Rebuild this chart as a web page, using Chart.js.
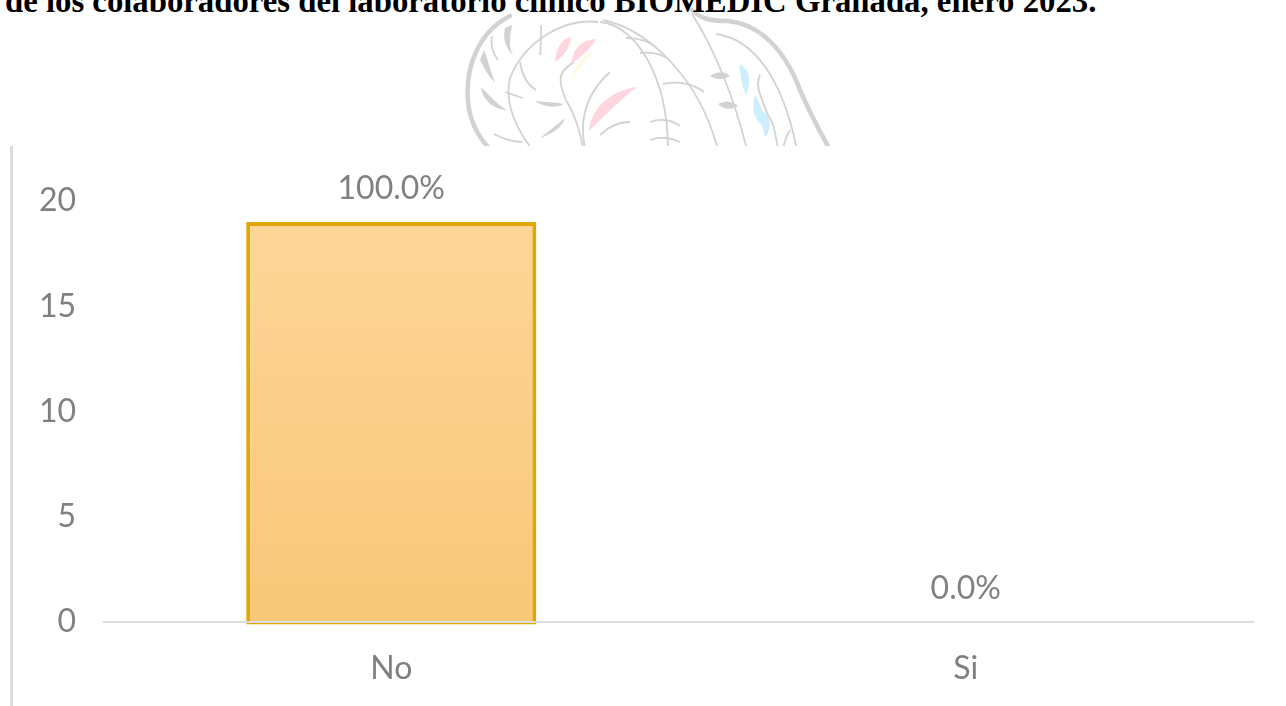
<!DOCTYPE html>
<html lang="es">
<head>
<meta charset="utf-8">
<title>BIOMEDIC</title>
<script src="https://cdn.jsdelivr.net/npm/chart.js@4"></script>
<style>
html,body{margin:0;padding:0;width:1286px;height:706px;overflow:hidden;background:#fff}
#title{position:absolute;left:5px;top:-14px;margin:0;font:bold 32.75px/30px "Liberation Serif",serif;color:#000;white-space:nowrap}
#mark{position:absolute;left:0;top:0;width:1286px;height:146px;filter:blur(.4px)}
#wrap{position:absolute;left:0;top:146px;width:1286px;height:560px;background:#fff}
#c{filter:blur(.45px)}
#edge{position:absolute;left:10px;top:146px;width:3px;height:560px;background:#dcdcdc}
</style>
</head>
<body>
<svg id="mark" viewBox="0 0 1286 146" aria-hidden="true" fill="none" stroke="#d2d2d2">
<g stroke-width="4.5" stroke-linecap="round">
<path d="M510 16C478 32 465 68 468 102C470 122 478 136 488 147"/>
<path d="M692 10C700 18 708 21 728 21C760 24 785 50 800 90C812 118 822 135 830 150"/>
</g>
<g stroke-width="1.8">
<path d="M598 22C565 18 525 40 510 78C505 100 514 125 531 148"/>
<path d="M600 22C635 25 668 75 668 150"/>
<path d="M603 20C650 30 700 80 718 150"/>
<path d="M692 14C715 50 735 100 747 150"/>
<path d="M716 34C760 40 785 90 797 150"/>
<path d="M566 100C555 75 562 70 574 62M566 100C575 115 580 130 583 148"/>
<path d="M585 148C578 115 590 90 610 72M492 36C490 48 494 55 498 60M541 25C541 40 541 48 540 55M520 62C522 75 528 85 536 90M505 92C510 94 517 96 523 98M626 38C640 38 650 42 653 46M640 53C650 52 660 54 667 58M663 84C680 80 695 85 704 92M650 122C660 118 672 120 680 126M650 140C660 136 672 138 680 142M760 75C755 85 760 95 768 115C775 125 775 135 778 148M790 130C785 138 785 142 783 148M600 135C610 125 620 122 630 122M494 134C505 140 515 142 522 142"/>
</g>
<g fill="#d2d2d2" stroke="none">
<path d="M505 28C502 42 508 50 513 55C508 45 510 38 512 25Z"/>
<path d="M480 60C486 72 490 78 495 82C490 70 488 60 484 50Z"/>
<path d="M481 87C482 100 495 110 507 110C497 104 490 96 481 87Z"/>
<path d="M535 101C545 108 556 108 564 104C555 102 545 102 535 101Z"/>
<path d="M540 138C552 134 562 128 565 118C555 126 548 132 540 138Z"/>
<path d="M710 76C718 70 726 72 730 76C724 80 716 80 710 76Z"/>
<path d="M718 104C726 100 734 102 738 106C732 110 724 110 718 104Z"/>
</g>
<g stroke="none">
<path d="M555 62C556 48 562 38 571 37C570 48 564 56 555 62Z" fill="#ffd6e0"/>
<path d="M572 63C572 50 580 40 596 39C590 50 582 56 572 63Z" fill="#ffd6e0"/>
<path d="M589 131C590 110 610 90 637 87C620 100 605 115 589 131Z" fill="#ffd6e0"/>
<path d="M572 80C574 68 582 56 595 50C584 60 578 70 572 80Z" fill="#fffbd6"/>
<path d="M739 65C748 66 753 80 746 95C741 85 741 75 739 65Z" fill="#cdeeff"/>
<path d="M755 95C752 105 752 118 762 125C765 135 764 135 765 137C772 130 772 118 762 110C760 104 758 100 755 95Z" fill="#cdeeff"/>
</g>
</svg>
<p id="title">de los colaboradores del laboratorio clínico BIOMEDIC Granada, enero 2023.</p>
<div id="wrap"><canvas id="c" width="1286" height="560"></canvas></div>
<div id="edge"></div>
<script>
const categories = ['No', 'Si'];
const counts = [19, 0];
const percentLabels = ['100.0%', '0.0%'];
const yTicks = [0, 5, 10, 15, 20];

const labelColor = '#808080';
const labelFont = '32px Lato, sans-serif';

const percentPlugin = {
  id: 'percentLabels',
  afterDatasetsDraw(chart) {
    const ctx = chart.ctx;
    ctx.save();
    ctx.font = labelFont;
    ctx.fillStyle = labelColor;
    ctx.textAlign = 'center';
    ctx.textBaseline = 'alphabetic';
    chart.getDatasetMeta(0).data.forEach((el, i) => {
      ctx.fillText(percentLabels[i], el.x, el.y - 23);
    });
    ctx.restore();
  }
};

function barFill(context) {
  if (!counts[context.dataIndex]) return 'rgba(0,0,0,0)';
  const area = context.chart.chartArea;
  if (!area) return '#F9CB80';
  const s = context.chart.scales.y;
  const g = context.chart.ctx.createLinearGradient(0, s.getPixelForValue(19), 0, s.getPixelForValue(0));
  g.addColorStop(0, '#FFD699');
  g.addColorStop(1, '#F8C778');
  return g;
}

new Chart(document.getElementById('c'), {
  type: 'bar',
  data: {
    labels: categories,
    datasets: [{
      data: counts,
      base: -0.12,
      clip: false,
      backgroundColor: barFill,
      borderColor: ['#E2A600', 'rgba(0,0,0,0)'],
      borderWidth: [4, 0],
      borderSkipped: false,
      barPercentage: 0.505,
      categoryPercentage: 1
    }]
  },
  plugins: [percentPlugin],
  options: {
    responsive: false,
    animation: false,
    layout: { padding: { left: 0, right: 33, top: 55, bottom: 0 } },
    plugins: { legend: { display: false }, title: { display: false }, tooltip: { enabled: false } },
    scales: {
      x: {
        grid: { display: false },
        border: { display: true, color: '#dcdcdc', width: 2, z: 1 },
        ticks: { color: labelColor, font: { family: 'Lato, sans-serif', size: 32 }, padding: 19, maxRotation: 0 },
        afterFit(scale) { scale.height = 84; }
      },
      y: {
        min: 0,
        max: 20,
        afterBuildTicks(scale) { scale.ticks = yTicks.map(v => ({ value: v })); },
        grid: { display: false, drawTicks: false },
        border: { display: false },
        ticks: { color: labelColor, font: { family: 'Lato, sans-serif', size: 32 }, padding: 28 },
        afterFit(scale) { scale.width = 104; }
      }
    }
  }
});
</script>
</body>
</html>
